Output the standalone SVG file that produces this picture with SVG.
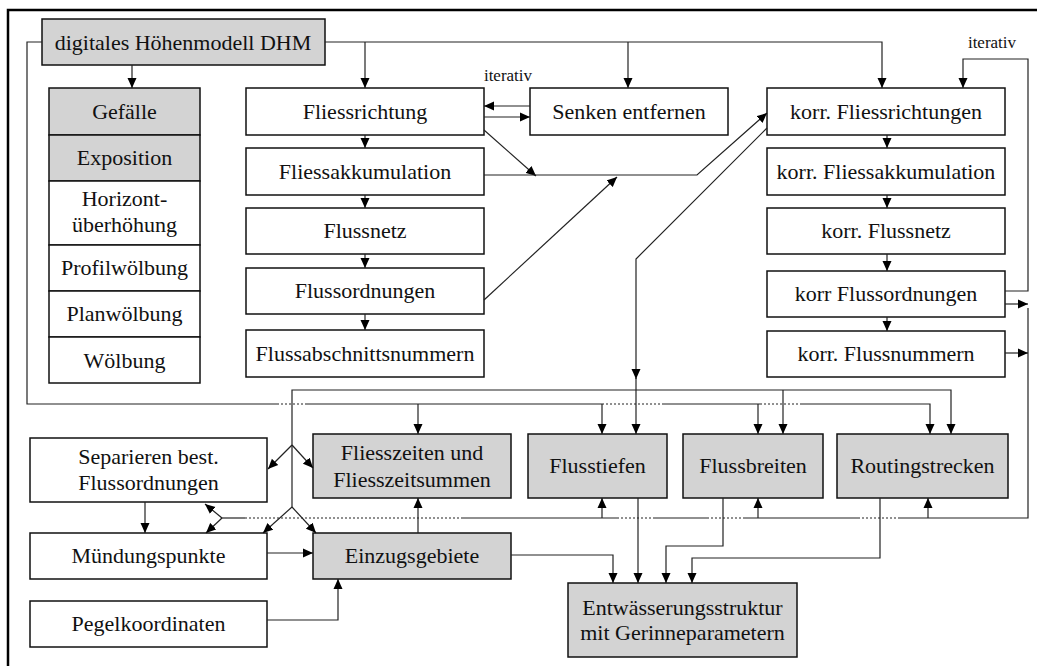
<svg xmlns="http://www.w3.org/2000/svg" width="1037" height="666" viewBox="0 0 1037 666">
<style>
.b{fill:#fff;stroke:#111;stroke-width:1.5}
.g{fill:#d3d3d3;stroke:#111;stroke-width:1.5}
text{font-family:"Liberation Serif","Times New Roman",serif;font-size:22px;fill:#111;text-anchor:middle}
.s{font-size:17px}
.c{fill:none;stroke:#222;stroke-width:1.2}
.a{marker-end:url(#ah)}
.d{fill:none;stroke:#222;stroke-width:1.2;stroke-dasharray:2 2}
</style>
<defs>
<marker id="ah" markerUnits="userSpaceOnUse" markerWidth="10" markerHeight="10" viewBox="0 0 10 10" refX="10" refY="5" orient="auto">
<path d="M0,0.5 L10,5 L0,9.5 z" fill="#000"/>
</marker>
</defs>
<rect width="1037" height="666" fill="#fff"/>
<path d="M8,666 V10 H1037" fill="none" stroke="#000" stroke-width="2.5"/>

<g id="n-dhm"><rect class="g" x="42" y="19" width="283" height="46"/><text x="183" y="50">digitales Höhenmodell DHM</text></g>
<g id="n-gefaelle"><rect class="g" x="49" y="88" width="151" height="47"/><text x="124.5" y="119">Gefälle</text></g>
<g id="n-exposition"><rect class="g" x="49" y="135" width="151" height="46"/><text x="124.5" y="165">Exposition</text></g>
<g id="n-horizont"><rect class="b" x="49" y="181" width="151" height="64"/><text x="124.5" y="206">Horizont-</text><text x="124.5" y="232">überhöhung</text></g>
<g id="n-profil"><rect class="b" x="49" y="245" width="151" height="46"/><text x="124.5" y="275">Profilwölbung</text></g>
<g id="n-plan"><rect class="b" x="49" y="291" width="151" height="46"/><text x="124.5" y="321">Planwölbung</text></g>
<g id="n-woelbung"><rect class="b" x="49" y="337" width="151" height="46"/><text x="124.5" y="368">Wölbung</text></g>

<g id="n-fliessrichtung"><rect class="b" x="246" y="88" width="238" height="47"/><text x="365" y="119">Fliessrichtung</text></g>
<g id="n-fliessakk"><rect class="b" x="246" y="148" width="238" height="47"/><text x="365" y="179">Fliessakkumulation</text></g>
<g id="n-flussnetz"><rect class="b" x="246" y="208" width="238" height="46"/><text x="365" y="238">Flussnetz</text></g>
<g id="n-flussord"><rect class="b" x="246" y="268" width="238" height="46"/><text x="365" y="298">Flussordnungen</text></g>
<g id="n-flussabschn"><rect class="b" x="246" y="330" width="238" height="47"/><text x="365" y="361">Flussabschnittsnummern</text></g>

<g id="n-senken"><rect class="b" x="530" y="88" width="198" height="47"/><text x="629" y="119">Senken entfernen</text></g>

<g id="n-kfr"><rect class="b" x="767" y="88" width="238" height="47"/><text x="886" y="119">korr. Fliessrichtungen</text></g>
<g id="n-kfa"><rect class="b" x="767" y="148" width="238" height="47"/><text x="886" y="179">korr. Fliessakkumulation</text></g>
<g id="n-kfn"><rect class="b" x="767" y="208" width="238" height="46"/><text x="886" y="238">korr. Flussnetz</text></g>
<g id="n-kfo"><rect class="b" x="767" y="271" width="238" height="46"/><text x="886" y="301">korr Flussordnungen</text></g>
<g id="n-kfnum"><rect class="b" x="767" y="331" width="238" height="46"/><text x="886" y="361">korr. Flussnummern</text></g>

<g id="n-separieren"><rect class="b" x="30" y="438" width="237" height="64"/><text x="148.5" y="464">Separieren best.</text><text x="148.5" y="490">Flussordnungen</text></g>
<g id="n-muendung"><rect class="b" x="30" y="533" width="237" height="46"/><text x="148.5" y="563">Mündungspunkte</text></g>
<g id="n-pegel"><rect class="b" x="30" y="601" width="237" height="46"/><text x="148.5" y="631">Pegelkoordinaten</text></g>

<g id="n-fliesszeiten"><rect class="g" x="313" y="434" width="198" height="64"/><text x="412" y="460">Fliesszeiten und</text><text x="412" y="487">Fliesszeitsummen</text></g>
<g id="n-flusstiefen"><rect class="g" x="528" y="434" width="139" height="64"/><text x="597.5" y="473">Flusstiefen</text></g>
<g id="n-flussbreiten"><rect class="g" x="683" y="434" width="140" height="64"/><text x="753" y="473">Flussbreiten</text></g>
<g id="n-routing"><rect class="g" x="837" y="434" width="171" height="64"/><text x="922.5" y="473">Routingstrecken</text></g>
<g id="n-einzug"><rect class="g" x="313" y="533" width="198" height="46"/><text x="412" y="563">Einzugsgebiete</text></g>
<g id="n-entw"><rect class="g" x="568" y="583" width="229" height="74"/><text x="682.5" y="615">Entwässerungsstruktur</text><text x="682.5" y="640">mit Gerinneparametern</text></g>

<g id="connectors">
<text class="s" x="508" y="81">iterativ</text>
<text class="s" x="992" y="48">iterativ</text>
<!-- top bus from DHM -->
<path class="c a" d="M325,42 H882 V88"/>
<path class="c a" d="M365,42 V88"/>
<path class="c a" d="M628,42 V88"/>
<path class="c a" d="M132,65 V88"/>
<!-- left bus A -->
<path class="c" d="M42,42 H27 V404 H277"/>
<path class="d" d="M277,404 H307"/>
<path class="c" d="M307,404 H602"/>
<path class="d" d="M602,404 H663"/>
<path class="c" d="M663,404 H760"/>
<path class="d" d="M760,404 H800"/>
<path class="c a" d="M800,404 H930 V434"/>
<path class="c a" d="M418,404 V434"/>
<path class="c a" d="M602,404 V434"/>
<path class="c a" d="M758,404 V434"/>
<!-- column arrows -->
<path class="c a" d="M365,135 V148"/>
<path class="c a" d="M365,195 V208"/>
<path class="c a" d="M365,254 V268"/>
<path class="c a" d="M365,314 V330"/>
<path class="c a" d="M887,135 V148"/>
<path class="c a" d="M887,195 V208"/>
<path class="c a" d="M887,254 V271"/>
<path class="c a" d="M887,317 V331"/>
<!-- Senken iteration -->
<path class="c a" d="M530,106 H484"/>
<path class="c a" d="M484,117 H530"/>
<!-- diagonals -->
<path class="c a" d="M484,130 L536,176"/>
<path class="c a" d="M484,175 H697 L767,113"/>
<path class="c a" d="M484,300 L617,177"/>
<path class="c a" d="M767,128 L636,259 V379"/>
<path class="c" d="M636,378 V390"/>
<!-- bus B -->
<path class="c a" d="M292,507 V390 H951 V434"/>
<path class="c a" d="M636,390 V434"/>
<path class="c a" d="M783,390 V434"/>
<path class="c a" d="M292,445 L268,469"/>
<path class="c a" d="M292,445 L313,468"/>
<path class="c a" d="M292,507 L263,533"/>
<path class="c a" d="M292,507 L316,533"/>
<!-- right iteration loop -->
<path class="c a" d="M1005,291 H1028 V59 H963 V88"/>
<path class="c a" d="M1005,304 H1028"/>
<path class="c a" d="M1005,353 H1028"/>
<!-- bus C -->
<path class="c" d="M1028,308 V518 H900"/>
<path class="d" d="M900,518 H860"/>
<path class="c" d="M860,518 H745"/>
<path class="d" d="M745,518 H707"/>
<path class="c" d="M707,518 H655"/>
<path class="d" d="M655,518 H618"/>
<path class="c" d="M618,518 H463"/>
<path class="d" d="M463,518 H245"/>
<path class="c" d="M245,518 H222"/>
<path class="c a" d="M222,518 L205,504"/>
<path class="c a" d="M222,518 L206,533"/>
<path class="c a" d="M602,518 V498"/>
<path class="c a" d="M758,518 V498"/>
<path class="c a" d="M928,518 V498"/>
<!-- bottom left -->
<path class="c a" d="M145,502 V533"/>
<path class="c a" d="M267,553 H313"/>
<path class="c a" d="M267,620 H338 V579"/>
<path class="c a" d="M418,533 V498"/>
<!-- to Entwaesserung -->
<path class="c a" d="M511,555 H613 V583"/>
<path class="c a" d="M638,498 V583"/>
<path class="c a" d="M723,498 V546 H666 V583"/>
<path class="c a" d="M880,498 V558 H692 V583"/>
</g>
</svg>
